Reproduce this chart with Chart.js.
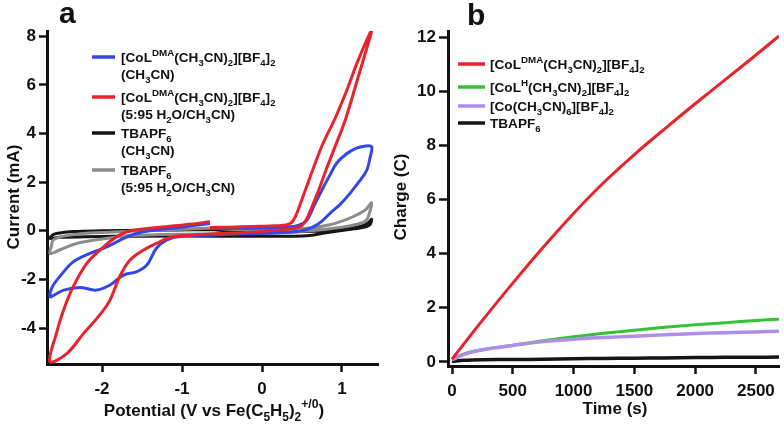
<!DOCTYPE html>
<html>
<head>
<meta charset="utf-8">
<script src="https://cdn.jsdelivr.net/npm/chart.js@4"></script>
<style>
  body { margin: 0; background: #fff; }
  #wrap { position: relative; width: 784px; height: 426px; }
  canvas { position: absolute; top: 0; }
</style>
</head>
<body>
<div id="wrap">
  <canvas id="cv" width="392" height="426" style="left:0"></canvas>
  <canvas id="charge" width="392" height="426" style="left:392px"></canvas>
</div>
<script>
/*
DATA - panel a (cyclic voltammograms), points in scan order
*/
const redV = [-0.65, -0.4, -0.1, 0.1, 0.3, 0.37, 0.42, 0.5, 0.6, 0.75, 0.91, 1.05, 1.2, 1.37, 1.3, 1.2, 1.04, 0.9, 0.8, 0.7, 0.62, 0.56, 0.5, 0.4, 0.1, -0.2, -0.52, -0.9, -1.15, -1.32, -1.48, -1.65, -1.78, -1.9, -2.03, -2.23, -2.44, -2.65, -2.57, -2.48, -2.36, -2.19, -1.98, -1.82, -1.69, -1.53, -1.2, -0.9, -0.65];
const redI = [0.14, 0.15, 0.18, 0.2, 0.24, 0.35, 0.6, 1.3, 2.2, 3.5, 4.6, 5.7, 7.0, 8.25, 7.4, 6.3, 4.55, 3.35, 2.5, 1.6, 0.95, 0.5, 0.22, 0.1, 0.0, -0.07, -0.11, -0.18, -0.27, -0.52, -0.79, -1.2, -1.89, -2.85, -3.47, -4.22, -5.05, -5.39, -4.22, -3.26, -2.3, -1.34, -0.66, -0.25, -0.04, 0.06, 0.17, 0.27, 0.37];

const blueV = [-0.65, -0.3, 0.0, 0.3, 0.45, 0.56, 0.66, 0.77, 0.85, 0.93, 1.05, 1.18, 1.28, 1.37, 1.35, 1.31, 1.22, 1.1, 0.98, 0.85, 0.75, 0.64, 0.5, 0.2, -0.2, -0.6, -1.02, -1.19, -1.32, -1.44, -1.57, -1.73, -1.9, -2.07, -2.28, -2.48, -2.6, -2.65, -2.62, -2.53, -2.36, -2.15, -1.94, -1.73, -1.57, -1.4, -1.0, -0.65];
const blueI = [0.1, 0.1, 0.12, 0.15, 0.22, 0.44, 1.1, 1.81, 2.3, 2.77, 3.15, 3.4, 3.48, 3.46, 3.0, 2.5, 2.05, 1.54, 1.1, 0.72, 0.4, 0.16, 0.0, -0.08, -0.12, -0.17, -0.22, -0.38, -0.72, -1.41, -1.69, -1.82, -2.23, -2.44, -2.33, -2.44, -2.65, -2.71, -2.3, -1.89, -1.28, -0.93, -0.66, -0.31, -0.11, 0.0, 0.15, 0.3];

const grayV = [-0.65, -0.3, 0.2, 0.6, 0.85, 1.06, 1.2, 1.3, 1.37, 1.34, 1.3, 1.2, 1.0, 0.6, 0.2, -0.5, -1.0, -1.5, -1.73, -2.07, -2.32, -2.53, -2.65, -2.63, -2.61, -2.48, -2.2, -1.5, -1.0, -0.65];
const grayI = [0.12, 0.05, 0.05, 0.12, 0.25, 0.47, 0.68, 0.88, 1.15, 0.7, 0.42, 0.28, 0.15, 0.0, -0.08, -0.12, -0.14, -0.18, -0.22, -0.37, -0.52, -0.79, -0.93, -0.6, -0.38, -0.22, -0.1, 0.0, 0.06, 0.12];

const blackV = [-0.65, -0.3, 0.3, 0.8, 1.1, 1.25, 1.33, 1.37, 1.35, 1.3, 1.15, 0.8, 0.56, 0.2, -0.5, -1.5, -2.2, -2.53, -2.65, -2.62, -2.57, -2.36, -2.0, -1.5, -0.65];
const blackI = [0.05, -0.02, -0.05, 0.0, 0.1, 0.2, 0.33, 0.47, 0.25, 0.16, 0.08, -0.08, -0.2, -0.22, -0.22, -0.22, -0.24, -0.27, -0.31, -0.18, -0.11, -0.03, 0.0, 0.02, 0.05];

const potTicks = [-2, -1, 0, 1];
const currentTicks = [-4, -2, 0, 2, 4, 6, 8];

/*
DATA - panel b (charge vs time)
*/
const timeS = [0, 100, 250, 500, 750, 1000, 1250, 1500, 1750, 2000, 2250, 2500, 2690];
const chargeRed = [0.1, 0.68, 1.535, 2.91, 4.235, 5.485, 6.635, 7.66, 8.61, 9.535, 10.435, 11.335, 12.04];
const chargeGreen = [0.1, 0.3, 0.45, 0.62, 0.78, 0.93, 1.06, 1.17, 1.28, 1.37, 1.45, 1.53, 1.58];
const chargePurple = [0.08, 0.28, 0.45, 0.61, 0.75, 0.84, 0.9, 0.95, 1.0, 1.05, 1.08, 1.11, 1.13];
const chargeBlack = [0.02, 0.06, 0.08, 0.09, 0.1, 0.12, 0.13, 0.14, 0.15, 0.16, 0.17, 0.17, 0.18];

const timeTicks = [0, 500, 1000, 1500, 2000, 2500];
const chargeTicks = [0, 2, 4, 6, 8, 10, 12];

// legend labels, _x = subscript, ^{..} = superscript
const legendA = [
  ['[CoL^{DMA}(CH_3CN)_2][BF_4]_2', '(CH_3CN)'],
  ['[CoL^{DMA}(CH_3CN)_2][BF_4]_2', '(5:95 H_2O/CH_3CN)'],
  ['TBAPF_6', '(CH_3CN)'],
  ['TBAPF_6', '(5:95 H_2O/CH_3CN)']
];
const legendB = [
  '[CoL^{DMA}(CH_3CN)_2][BF_4]_2',
  '[CoL^{H}(CH_3CN)_2][BF_4]_2',
  '[Co(CH_3CN)_6][BF_4]_2',
  'TBAPF_6'
];

const RED = '#e8232b';
const BLUE = '#3347e6';
const BLACK = '#151515';
const GRAY = '#8c8c8c';
const GREEN = '#36c236';
const PURPLE = '#ad8ee8';
const FAMILY = '"Liberation Sans", Arial, sans-serif';

const zip = (xs, ys) => xs.map((x, i) => ({x: x, y: ys[i]}));

/*
rich text helpers (sub/superscripts drawn on canvas)
*/
function parseRich(str) {
  let segs = [];
  let buf = '';
  let i = 0;
  while (i < str.length) {
    let c = str[i];
    if (c === '_' || c === '^') {
      if (buf) { segs.push({t: buf, m: 'n'}); buf = ''; }
      let t;
      if (str[i + 1] === '{') {
        let j = str.indexOf('}', i);
        t = str.slice(i + 2, j);
        i = j + 1;
      } else {
        t = str[i + 1];
        i += 2;
      }
      segs.push({t: t, m: c === '_' ? 'sub' : 'sup'});
    } else {
      buf += c;
      i++;
    }
  }
  if (buf) segs.push({t: buf, m: 'n'});
  return segs;
}

function segFont(s, size) {
  let sz = s.m === 'n' ? size : (s.m === 'sup' ? size * 0.72 : size * 0.7);
  return 'bold ' + sz.toFixed(1) + 'px ' + FAMILY;
}

function drawRich(ctx, str, x, y, size, align) {
  let segs = parseRich(str);
  let w = 0;
  segs.forEach(s => {
    ctx.font = segFont(s, size);
    s.w = ctx.measureText(s.t).width;
    w += s.w;
  });
  let cx = align === 'center' ? x - w / 2 : x;
  ctx.textAlign = 'left';
  ctx.textBaseline = 'alphabetic';
  segs.forEach(s => {
    ctx.font = segFont(s, size);
    let dy = s.m === 'sub' ? size * 0.28 : (s.m === 'sup' ? -size * 0.45 : 0);
    ctx.fillText(s.t, cx, y + dy);
    cx += s.w;
  });
}

function drawRotated(ctx, str, x, y, size) {
  ctx.save();
  ctx.translate(x, y);
  ctx.rotate(-Math.PI / 2);
  drawRich(ctx, str, 0, 0, size, 'center');
  ctx.restore();
}

function legendLine(ctx, color, x1, x2, y) {
  ctx.strokeStyle = color;
  ctx.lineWidth = 3.5;
  ctx.beginPath();
  ctx.moveTo(x1, y);
  ctx.lineTo(x2, y);
  ctx.stroke();
}

const textA = {
  id: 'textA',
  afterDraw(chart) {
    const ctx = chart.ctx;
    ctx.save();
    ctx.fillStyle = '#111';
    ctx.font = 'bold 30px ' + FAMILY;
    ctx.fillText('a', 59, 23);
    drawRotated(ctx, 'Current (mA)', 19, 197, 17);
    drawRich(ctx, 'Potential (V vs Fe(C_5H_5)_2^{+/0})', 214, 416, 17, 'center');
    const colors = [BLUE, RED, BLACK, GRAY];
    const rows = [57, 97, 133, 170];
    legendA.forEach((lab, k) => {
      legendLine(ctx, colors[k], 92, 115, rows[k]);
      ctx.fillStyle = '#111';
      drawRich(ctx, lab[0], 121, rows[k] + 5, 13.6, 'left');
      drawRich(ctx, lab[1], 121, rows[k] + 22, 13.6, 'left');
    });
    ctx.restore();
  }
};

const textB = {
  id: 'textB',
  afterDraw(chart) {
    const ctx = chart.ctx;
    ctx.save();
    ctx.fillStyle = '#111';
    ctx.font = 'bold 30px ' + FAMILY;
    ctx.fillText('b', 75, 25);
    drawRotated(ctx, 'Charge (C)', 14, 197, 17);
    drawRich(ctx, 'Time (s)', 223, 414, 17, 'center');
    const colors = [RED, GREEN, PURPLE, BLACK];
    const rows = [64, 87, 106, 123];
    legendB.forEach((lab, k) => {
      legendLine(ctx, colors[k], 66, 93, rows[k]);
      ctx.fillStyle = '#111';
      drawRich(ctx, lab, 98, rows[k] + 5, 13.6, 'left');
    });
    ctx.restore();
  }
};

function axisStyle(ticksArr, fitSize, isX, tickLen) {
  return {
    type: 'linear',
    afterBuildTicks: s => { s.ticks = ticksArr.map(v => ({value: v})); },
    afterFit: s => { if (isX) s.height = fitSize; else s.width = fitSize; },
    grid: { display: true, drawOnChartArea: false, drawTicks: true, tickLength: tickLen, tickWidth: 2.5, tickColor: '#111' },
    border: { display: true, color: '#111', width: 3 },
    ticks: { color: '#111', padding: isX ? 7 : 3, maxRotation: 0, autoSkip: false,
             callback: v => String(v),
             font: { family: FAMILY, size: 17, weight: 'bold' } },
    title: { display: false }
  };
}

function lineSet(points, color, width) {
  return {
    data: points,
    fill: false,
    borderColor: color,
    backgroundColor: color,
    borderWidth: width,
    pointRadius: 0,
    tension: 0.35
  };
}

const baseOptions = {
  animation: false,
  responsive: false,
  devicePixelRatio: 1,
  plugins: { legend: { display: false }, tooltip: { enabled: false } }
};

// panel a
let optA = Object.assign({}, baseOptions, {
  layout: { padding: { top: 31, right: 14, left: 0, bottom: 0 } },
  scales: {
    x: Object.assign(axisStyle(potTicks, 62, true, 8), { min: -2.6875, max: 1.45 }),
    y: Object.assign(axisStyle(currentTicks, 47, false, 8), { min: -5.48, max: 8.22 })
  }
});

let cvChart = new Chart(document.getElementById('cv'), {
  type: 'line',
  data: {
    datasets: [
      lineSet(zip(redV, redI), RED, 3),
      lineSet(zip(blueV, blueI), BLUE, 3),
      lineSet(zip(grayV, grayI), GRAY, 3),
      lineSet(zip(blackV, blackI), BLACK, 3)
    ]
  },
  options: optA,
  plugins: [textA]
});

// panel b
let optB = Object.assign({}, baseOptions, {
  layout: { padding: { top: 31.6, right: 5, left: 0, bottom: 0 } },
  scales: {
    x: Object.assign(axisStyle(timeTicks, 60, true, 8), { min: -33, max: 2690 }),
    y: Object.assign(axisStyle(chargeTicks, 56, false, 9), { min: -0.15, max: 12.2 })
  }
});

let chargeChart = new Chart(document.getElementById('charge'), {
  type: 'line',
  data: {
    datasets: [
      lineSet(zip(timeS, chargeRed), RED, 3),
      lineSet(zip(timeS, chargePurple), PURPLE, 3.5),
      lineSet(zip(timeS, chargeGreen), GREEN, 3),
      lineSet(zip(timeS, chargeBlack), BLACK, 3.5)
    ]
  },
  options: optB,
  plugins: [textB]
});
</script>
</body>
</html>
